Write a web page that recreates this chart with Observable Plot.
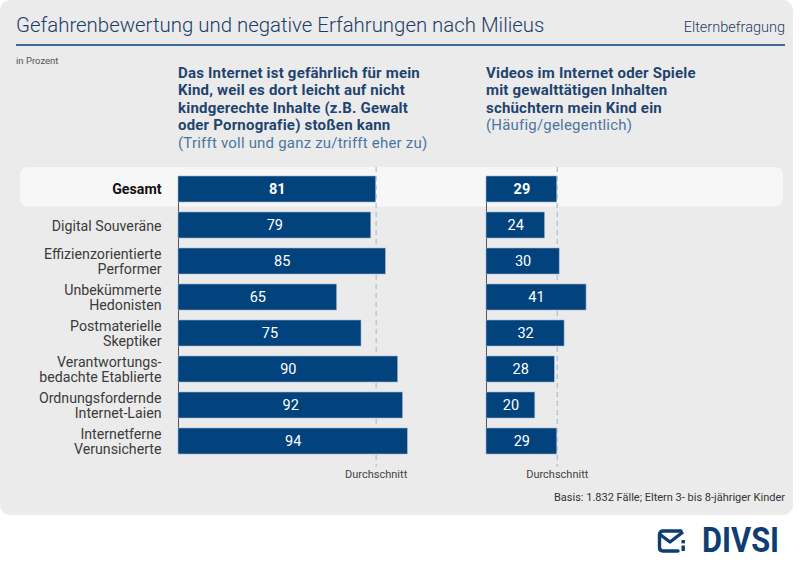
<!DOCTYPE html>
<html>
<head>
<meta charset="utf-8">
<script src="https://cdn.jsdelivr.net/npm/d3@7"></script>
<script src="https://cdn.jsdelivr.net/npm/@observablehq/plot@0.6"></script>
<style>
  html, body { margin: 0; padding: 0; background: #ffffff; }
  #page { position: relative; width: 800px; height: 566px; overflow: hidden; font-family: Roboto, "DejaVu Sans", sans-serif; }
  #panel { position: absolute; left: 0; top: 0; width: 793px; height: 515px; background: #ebebeb; border-radius: 10px; }
  .abs { position: absolute; white-space: nowrap; }
  #title { left: 16px; top: 13px; font-size: 20.4px; font-weight: 300; color: #1d3c66; line-height: 25px; }
  #source { right: 15px; top: 19px; font-size: 14.5px; font-weight: 300; color: #1d3c66; line-height: 17px; }
  #rule { left: 16px; top: 44px; width: 769px; height: 1.6px; background: #3d6b97; }
  #unit { left: 16px; top: 55px; font-size: 9.5px; color: #555; line-height: 12px; }
  .head { top: 65px; font-size: 15px; font-weight: bold; color: #1e446f; line-height: 17.4px; letter-spacing: 0.2px; }
  .head .sub { font-weight: normal; color: #4b76a1; }
  #basis { right: 15px; top: 491px; font-size: 11px; color: #333; line-height: 13px; }
  #logo { left: 657px; top: 524px; display: flex; align-items: center; }
  #logo span { font-size: 35px; font-weight: bold; color: #0d3e73; letter-spacing: 0px; line-height: 34px; margin-left: 14px; display: inline-block; transform: scaleX(0.88); transform-origin: left center; }
  #chart { position: absolute; left: 0; top: 150px; }
</style>
</head>
<body>
<div id="page">
  <div id="panel"></div>
  <div class="abs" id="title">Gefahrenbewertung und negative Erfahrungen nach Milieus</div>
  <div class="abs" id="source">Elternbefragung</div>
  <div class="abs" id="rule"></div>
  <div class="abs" id="unit">in Prozent</div>
  <div class="abs head" style="left:178px">Das Internet ist gefährlich für mein<br>Kind, weil es dort leicht auf nicht<br>kindgerechte Inhalte (z.B. Gewalt<br>oder Pornografie) stoßen kann<br><span class="sub">(Trifft voll und ganz zu/trifft eher zu)</span></div>
  <div class="abs head" style="left:486px">Videos im Internet oder Spiele<br>mit gewalttätigen Inhalten<br>schüchtern mein Kind ein<br><span class="sub">(Häufig/gelegentlich)</span></div>
  <div id="chart"></div>
  <div class="abs" id="basis">Basis: 1.832 Fälle; Eltern 3- bis 8-jähriger Kinder</div>
  <div class="abs" id="logo">
    <svg width="31" height="26" viewBox="0 0 31 26">
      <path d="M24 3 H6 Q2.5 3 2.5 6.5 V19.5 Q2.5 23 6 23 H21" fill="none" stroke="#0d3e73" stroke-width="3.4" stroke-linecap="round"/>
      <path d="M3 6.5 L13 14 L26 4" fill="none" stroke="#0d3e73" stroke-width="3.4" stroke-linejoin="round"/>
      <rect x="24.5" y="12" width="3.4" height="3.4" fill="#0d3e73"/>
      <rect x="24.5" y="17.5" width="3.4" height="5.5" fill="#0d3e73"/>
    </svg>
    <span>DIVSI</span>
  </div>
</div>
<script>
// ---- data ----
const milieus = [
  "Gesamt",
  "Digital Souveräne",
  "Effizienzorientierte\nPerformer",
  "Unbekümmerte\nHedonisten",
  "Postmaterielle\nSkeptiker",
  "Verantwortungs-\nbedachte Etablierte",
  "Ordnungsfordernde\nInternet-Laien",
  "Internetferne\nVerunsicherte"
];
const dangerValues   = [81, 79, 85, 65, 75, 90, 92, 94];
const violenceValues = [29, 24, 30, 41, 32, 28, 20, 29];
const panels = ["danger", "violence"];
const totalLabel = "Gesamt";
const averageLabel = "Durchschnitt";

// ---- table built from the arrays ----
const rows = milieus.flatMap((m, i) => [
  {panel: panels[0], milieu: m, value: dangerValues[i]},
  {panel: panels[1], milieu: m, value: violenceValues[i]}
]);
const totals = rows.filter(d => d.milieu === totalLabel);
const others = rows.filter(d => d.milieu !== totalLabel);
const barColor = "#02427d";

const chart = Plot.plot({
  width: 800,
  height: 340,
  marginTop: 26,
  marginBottom: 36,
  marginLeft: 178,
  marginRight: 70,
  style: {fontFamily: "Roboto, 'DejaVu Sans', sans-serif", fontSize: "13px", background: "transparent", overflow: "visible"},
  fx: {domain: panels, axis: null, paddingInner: 0.208, paddingOuter: 0},
  x: {domain: [0, 100], axis: null},
  y: {domain: milieus, paddingInner: 0.29, paddingOuter: 0},
  marks: [
    // highlight band for the total row
    Plot.barX([{panel: panels[0], milieu: totalLabel}], {
      fx: "panel", y: "milieu", x1: 0, x2: 100, fill: "#f7f7f7", rx: 8,
      insetLeft: -158, insetRight: -361, insetTop: -9, insetBottom: -4.5
    }),
    // average lines
    Plot.ruleX(totals, {
      fx: "panel", x: "value", stroke: "#b1c2d9", strokeWidth: 1.3,
      strokeDasharray: "5,4", insetTop: -9, insetBottom: -13
    }),
    Plot.text(totals, {
      fx: "panel", x: "value", frameAnchor: "bottom", dy: 23,
      text: () => averageLabel, fontSize: 11, fill: "#444"
    }),
    // baseline
    Plot.ruleX([0], {stroke: "#555", strokeWidth: 1}),
    // bars
    Plot.barX(rows, {
      fx: "panel", y: "milieu", x1: 0, x2: "value",
      fill: barColor, stroke: "#9fb4cf", strokeWidth: 0.6
    }),
    // values
    Plot.text(others, {
      fx: "panel", y: "milieu", x: d => d.value / 2, text: d => `${d.value}`,
      fill: "white", fontSize: 14.5
    }),
    Plot.text(totals, {
      fx: "panel", y: "milieu", x: d => d.value / 2, text: d => `${d.value}`,
      fill: "white", fontSize: 14.5, fontWeight: "bold"
    }),
    // row labels
    Plot.axisY(milieus.filter(m => m !== totalLabel), {
      tickSize: 0, tickPadding: 17, fontSize: 14.2, lineHeight: 1.1,
      color: "#3b3b3b", label: null
    }),
    Plot.axisY([totalLabel], {
      tickSize: 0, tickPadding: 17, fontSize: 14.2, fontWeight: "bold",
      color: "#111", label: null
    })
  ]
});
document.getElementById("chart").appendChild(chart);
</script>
</body>
</html>
